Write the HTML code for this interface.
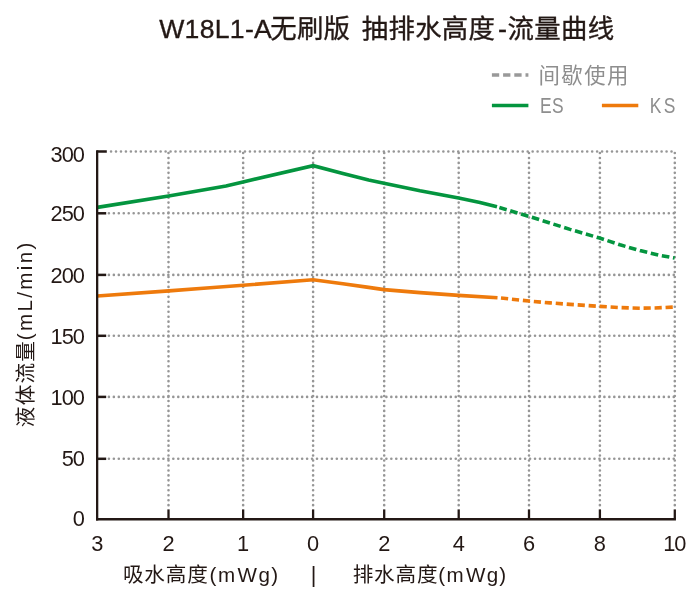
<!DOCTYPE html>
<html lang="zh-CN">
<head>
<meta charset="utf-8">
<title>W18L1-A无刷版 抽排水高度-流量曲线</title>
<style>
html,body{margin:0;padding:0;background:#fff;}
body{width:700px;height:605px;overflow:hidden;}
svg{display:block;}
text{font-family:"Liberation Sans", "Noto Sans CJK SC", sans-serif;fill:#231815;}
.g{fill:#8e8e8e;}
</style>
</head>
<body>
<svg width="700" height="605" viewBox="0 0 700 605">
<rect width="700" height="605" fill="#fff"/>
<g stroke="#969696" stroke-width="2.6" stroke-linecap="round" stroke-dasharray="0 4.96" fill="none">
<path d="M111.05 151.5H673"/>
<path d="M108.9 213.3H674.2" stroke-dasharray="0 4.955"/>
<path d="M108.9 274.9H674.2" stroke-dasharray="0 4.955"/>
<path d="M108.9 335.8H674.2" stroke-dasharray="0 4.955"/>
<path d="M108.9 396.9H674.2" stroke-dasharray="0 4.955"/>
<path d="M108.9 458.8H674.2" stroke-dasharray="0 4.955"/>
<path d="M168.5 153.0V508"/>
<path d="M243.15 153.0V508"/>
<path d="M313.1 153.0V508"/>
<path d="M384.2 153.0V508"/>
<path d="M458.7 153.0V508"/>
<path d="M529.0 153.0V508"/>
<path d="M599.9 153.0V508"/>
<path d="M674.8 153.0V508"/>
</g>
<g fill="none" stroke-width="3.6" stroke-linejoin="miter">
<path d="M97.3 207.4 L168.6 196.0 L226 186.0 L243 181.9 L313.2 165.7 L342.9 173.6 L368.6 180.0 L384 183.2 L420 190.8 L458.6 198.0 L480 202.4 L497 206.8" stroke="#04953f"/>
<path d="M497 206.8 L529 216.4 L550 223.0 L570 229.4 L599.6 238.0 L620 244.8 L640 250.6 L660 255.4 L674.6 258.0" stroke="#04953f" stroke-dasharray="7.6 3.7" stroke-dashoffset="-2.5"/>
<path d="M97.3 296.0 L168.9 290.9 L210 287.8 L243.2 285.2 L313 279.7 L342.9 283.7 L368.6 287.4 L384 289.6 L420 292.6 L458.6 295.4 L497.5 297.7" stroke="#ee7a0c"/>
<path d="M497.5 297.7 L529 301.0 L550 302.9 L570 304.4 L599.6 306.4 L620 307.6 L640 308.2 L655 308.0 L674.6 307.0" stroke="#ee7a0c" stroke-dasharray="7.2 3.8" stroke-dashoffset="-3.5"/>
</g>
<g stroke="#231815" stroke-width="2.3" fill="none">
<path d="M97.15 150.25V520.4"/>
<path d="M96.0 519.15H675.95" stroke-width="2.5"/>
<path d="M97.15 151.5H106.8" stroke-width="2.5"/>
<path d="M97.15 213.3H106.2" stroke-width="2.5"/>
<path d="M97.15 274.9H106.2" stroke-width="2.5"/>
<path d="M97.15 335.8H106.2" stroke-width="2.5"/>
<path d="M97.15 396.9H106.2" stroke-width="2.5"/>
<path d="M97.15 458.8H106.2" stroke-width="2.5"/>
<path d="M168.5 519.15V509.4"/>
<path d="M243.15 519.15V509.4"/>
<path d="M313.1 519.15V509.4"/>
<path d="M384.2 519.15V509.4"/>
<path d="M458.7 519.15V509.4"/>
<path d="M529.0 519.15V509.4"/>
<path d="M599.9 519.15V509.4"/>
<path d="M674.8 519.15V509.4"/>
</g>
<g font-size="21.8" text-anchor="end" letter-spacing="-1">
<text x="83.9" y="162.3">300</text>
<text x="83.9" y="220.7">250</text>
<text x="83.9" y="282.6">200</text>
<text x="83.9" y="343.6">150</text>
<text x="83.9" y="404.8">100</text>
<text x="83.9" y="466.2">50</text>
<text x="83.9" y="525.8">0</text>
</g>
<g font-size="21.8" text-anchor="middle" letter-spacing="-1">
<text x="96.8" y="550.8">3</text>
<text x="168.0" y="550.8">2</text>
<text x="242.65" y="550.8">1</text>
<text x="312.6" y="550.8">0</text>
<text x="383.7" y="550.8">2</text>
<text x="458.2" y="550.8">4</text>
<text x="528.5" y="550.8">6</text>
<text x="599.4" y="550.8">8</text>
<text x="674.3" y="550.8">10</text>
</g>
<text x="122.9" y="581.9" font-size="20.6"><tspan dy="-0.3" letter-spacing="0.83">吸水高度</tspan><tspan dy="0.3" dx="0.9 0.05 0.75 -0.1 -0.4" letter-spacing="1.6">(mWg)</tspan></text>
<text x="352.7" y="581.9" font-size="20.6"><tspan dy="-0.3" letter-spacing="0.83">排水高度</tspan><tspan dy="0.3" dx="-0.2 0.05 0.75 -0.1 -0.4" letter-spacing="1.45">(mWg)</tspan></text>
<text x="313.5" y="582.4" font-size="21.6" text-anchor="middle">|</text>
<text transform="translate(31.9 427.2) rotate(-90)" font-size="20.6"><tspan dy="0.6" letter-spacing="1.25">液体流量</tspan><tspan dy="-0.6" dx="-0.45" letter-spacing="2.35">(mL/min)</tspan></text>
<text y="37.6" font-size="26.6" stroke="#231815" stroke-width="0.35"><tspan x="159.2" letter-spacing="0.3">W18L1-A</tspan><tspan x="270.2" y="37.8" font-size="26.4" letter-spacing="0.3">无刷版 </tspan><tspan x="361.8" font-size="26.4" letter-spacing="0.3">抽排水高度</tspan><tspan x="498" y="37.6" font-size="27">-</tspan><tspan x="507.6" y="37.8" font-size="26.4" letter-spacing="0.3">流量曲线</tspan></text>
<path d="M491.9 75.05H528.4" stroke="#999999" stroke-width="3.5" stroke-dasharray="7.3 3.9" fill="none"/>
<path d="M491.9 105.5H528.4" stroke="#04953f" stroke-width="3.5" fill="none"/>
<path d="M601.9 105.5H638.3" stroke="#ee7a0c" stroke-width="3.5" fill="none"/>
<text class="g" x="538.4" y="82.6" font-size="21.4" letter-spacing="1.5">间歇使用</text>
<text class="g" transform="translate(539.9 112.9) scale(0.8 1)" font-size="21.8" letter-spacing="0.5">ES</text>
<text class="g" transform="translate(649.7 112.9) scale(0.8 1)" font-size="21.8" letter-spacing="3.0">KS</text>
</svg>
</body>
</html>
